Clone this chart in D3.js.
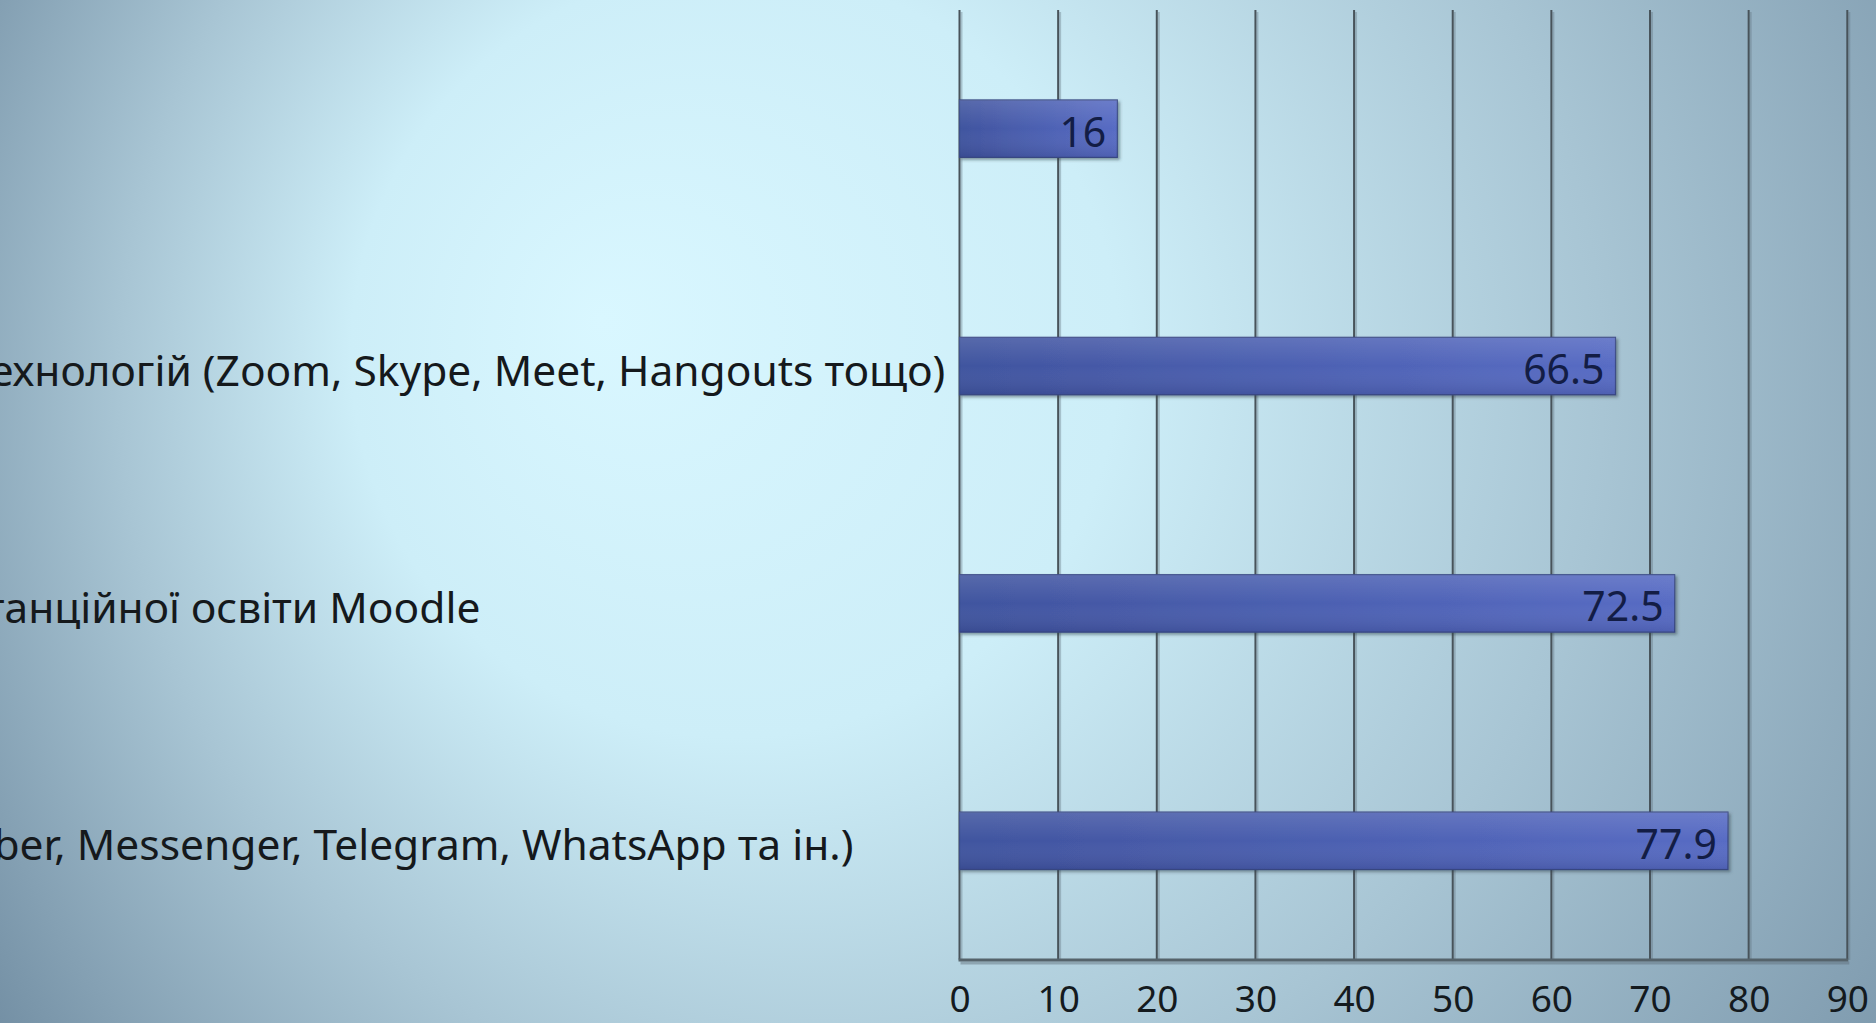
<!DOCTYPE html>
<html><head><meta charset="utf-8">
<script src="https://cdn.jsdelivr.net/npm/d3@7"></script>
<style>html,body{margin:0;padding:0;overflow:hidden;background:#a9c6d4}</style>
</head><body>
<script>
const categories = [
  "Інше",
  "Використання відеоконференційних технологій (Zoom, Skype, Meet, Hangouts тощо)",
  "Використання вільної платформи дистанційної освіти Moodle",
  "Використання чатів у месенджерах (Viber, Messenger, Telegram, WhatsApp та ін.)"
];
const values = [16, 66.5, 72.5, 77.9];
const tickValues = [0, 10, 20, 30, 40, 50, 60, 70, 80, 90];
const valueLabels = ["16", "66.5", "72.5", "77.9"];

const W = 1876, H = 1023;
const svg = d3.select("body").append("svg").attr("width", W).attr("height", H);
const defs = svg.append("defs");

const bg = defs.append("radialGradient").attr("id", "bg")
  .attr("gradientUnits", "userSpaceOnUse")
  .attr("cx", 1050).attr("cy", 430).attr("r", 1280)
  .attr("fx", 600).attr("fy", 320);
[[0, "#d9f7ff"], [0.3, "#cdeef8"], [0.58, "#a8c5d4"], [0.82, "#84a0b3"], [1, "#68849a"]].forEach(([o, c]) =>
  bg.append("stop").attr("offset", o).attr("stop-color", c));
svg.append("rect").attr("width", W).attr("height", H).attr("fill", "url(#bg)");

const barGrad = defs.append("linearGradient").attr("id", "bar").attr("x1", 0).attr("x2", 1).attr("y1", 0).attr("y2", 0);
[[0, "#40549f"], [1, "#586cc4"]].forEach(([o, c]) => barGrad.append("stop").attr("offset", o).attr("stop-color", c));
const barV = defs.append("linearGradient").attr("id", "barV").attr("x1", 0).attr("x2", 0).attr("y1", 0).attr("y2", 1);
[[0, "rgba(255,255,255,0.12)"], [0.5, "rgba(255,255,255,0)"], [1, "rgba(0,0,40,0.12)"]].forEach(([o, c]) => barV.append("stop").attr("offset", o).attr("stop-color", c));
const sh = defs.append("filter").attr("id", "sh").attr("x", -0.1).attr("y", -0.3).attr("width", 1.2).attr("height", 1.6);
sh.append("feDropShadow").attr("dx", 2).attr("dy", 2).attr("stdDeviation", 1.5).attr("flood-color", "#33414a").attr("flood-opacity", 0.5);

const x = d3.scaleLinear().domain([0, 90]).range([959.5, 1847.3]);
const y = d3.scaleBand().domain(categories).range([10, 959.5]).paddingInner(0.758).paddingOuter(0.379);

// gridlines (with a faint shadow line next to each)
const g = svg.append("g");
g.selectAll("line.gs").data(tickValues).join("line").attr("class", "gs")
  .attr("x1", d => x(d) + 2).attr("x2", d => x(d) + 2).attr("y1", 12).attr("y2", 960)
  .attr("stroke", "#5d6d77").attr("stroke-opacity", 0.35).attr("stroke-width", 2);
g.selectAll("line.grid").data(tickValues).join("line").attr("class", "grid")
  .attr("x1", d => x(d)).attr("x2", d => x(d)).attr("y1", 10).attr("y2", 959.5)
  .attr("stroke", "#48535a").attr("stroke-width", 2);
g.append("line").attr("x1", x(0) + 1).attr("x2", x(90) + 2).attr("y1", 963).attr("y2", 963)
  .attr("stroke", "#5d6d77").attr("stroke-opacity", 0.45).attr("stroke-width", 3);
g.append("line").attr("x1", x(0) - 1).attr("x2", x(90) + 1).attr("y1", 960).attr("y2", 960)
  .attr("stroke", "#55636b").attr("stroke-width", 3);

// x axis labels
const xAxis = d3.axisBottom(x).tickValues(tickValues).tickSize(0).tickPadding(0).tickFormat(d3.format("d"));
const ax = svg.append("g").attr("transform", `translate(0,${1012})`).call(xAxis);
ax.select(".domain").remove();
ax.selectAll("text").attr("dy", 0).attr("y", 0).attr("fill", "#141a1e")
  .style("font-family", "'Noto Sans'").style("font-size", "37px");

// bars
const bars = svg.append("g");
bars.selectAll("rect.b").data(values).join("rect").attr("class", "b")
  .attr("x", x(0)).attr("y", (d, i) => y(categories[i]))
  .attr("width", d => x(d) - x(0)).attr("height", y.bandwidth())
  .attr("fill", "url(#bar)").attr("stroke", "#3b4b86").attr("stroke-width", 1.2).attr("filter", "url(#sh)");
bars.selectAll("rect.v").data(values).join("rect").attr("class", "v")
  .attr("x", x(0)).attr("y", (d, i) => y(categories[i]))
  .attr("width", d => x(d) - x(0)).attr("height", y.bandwidth())
  .attr("fill", "url(#barV)");

// value labels
svg.append("g").selectAll("text").data(values).join("text")
  .attr("x", d => x(d) - 11).attr("y", (d, i) => y(categories[i]) + y.bandwidth() / 2 + 2)
  .attr("text-anchor", "end").attr("dominant-baseline", "central")
  .attr("fill", "#131d45").style("font-family", "'Noto Sans'").style("font-size", "41px")
  .text((d, i) => valueLabels[i]);

// category labels (left aligned, running off the left edge)
const cat = svg.append("g").selectAll("text").data(categories).join("text")
  .attr("y", d => y(d) + y.bandwidth() / 2 + 3)
  .attr("dominant-baseline", "central").attr("fill", "#15191c")
  .style("font-family", "'Noto Sans'").style("font-size", "42.5px")
  .text(d => d);
const n2 = cat.nodes()[1];
const k = categories[1].indexOf("ехнологій");
const startX = -n2.getSubStringLength(0, k) - 10;
cat.attr("x", startX);
</script>
</body></html>
